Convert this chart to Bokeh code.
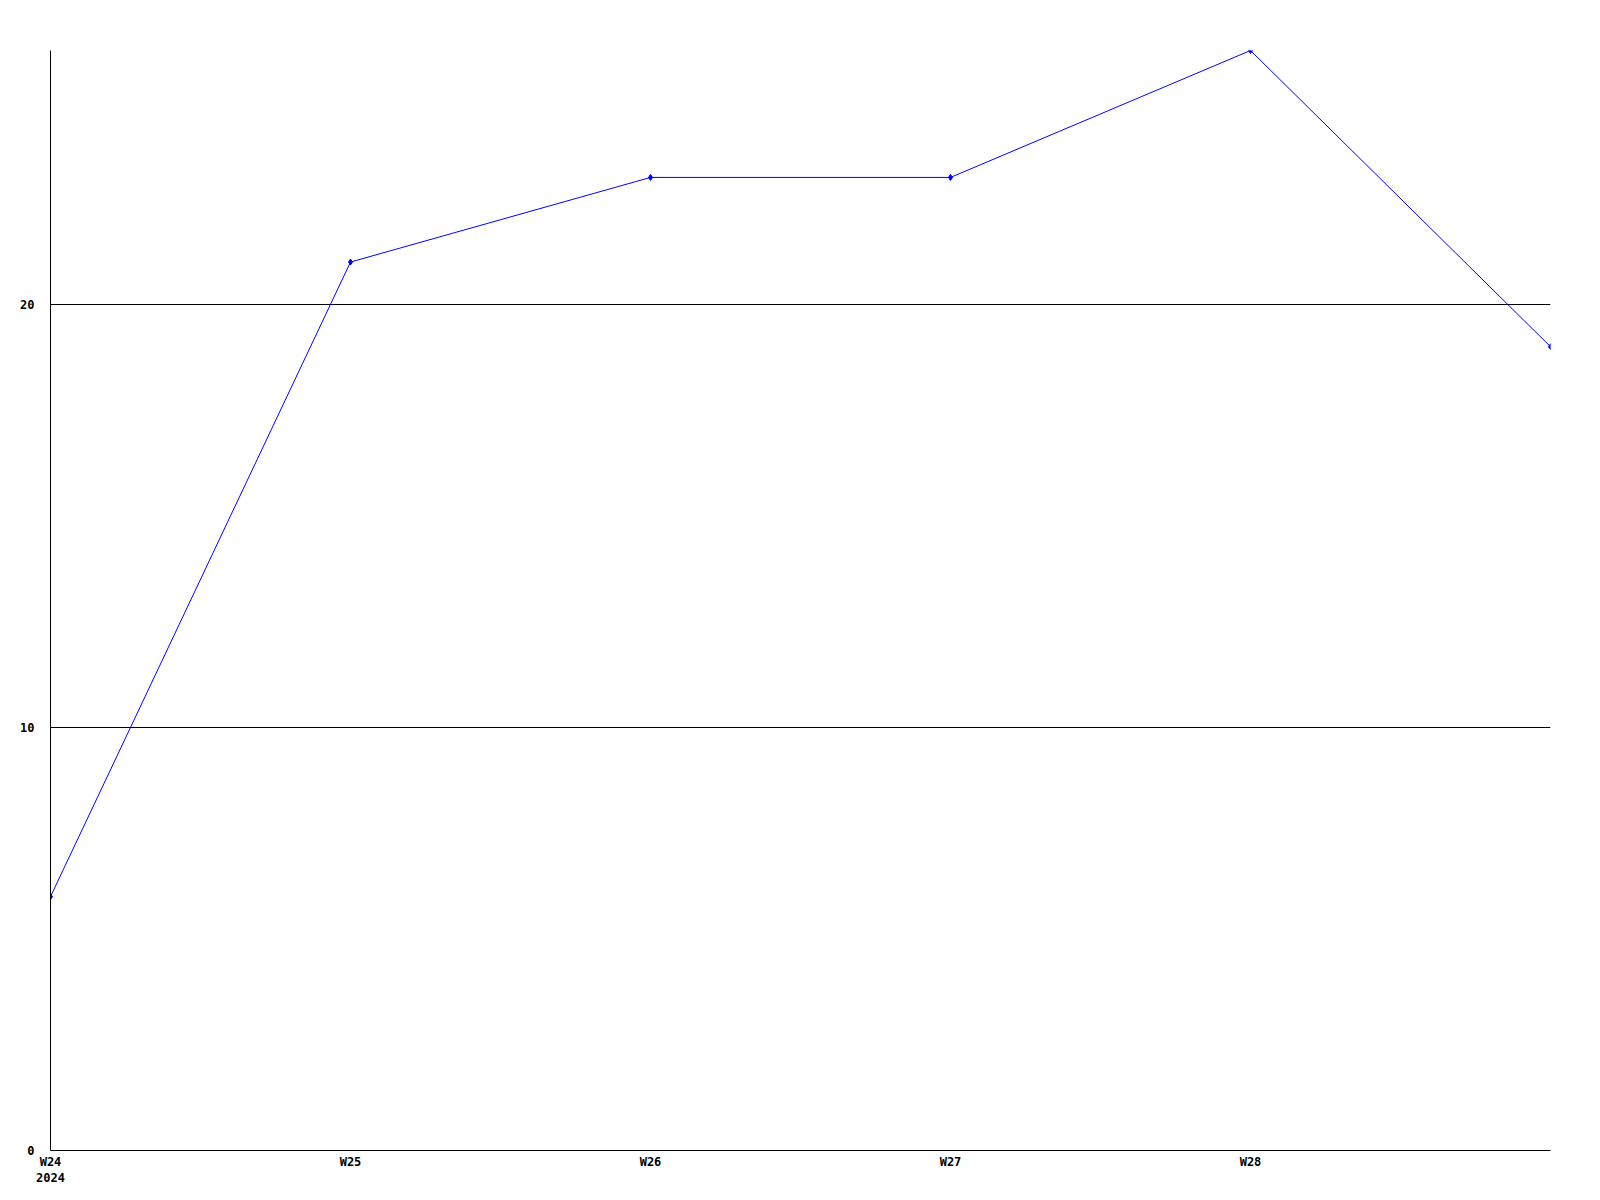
from bokeh.plotting import figure
from bokeh.models import FixedTicker, Range1d
from bokeh.embed import file_html
from bokeh.resources import INLINE

weeks = [24, 25, 26, 27, 28, 29]
values = [6, 21, 23, 23, 26, 19]
tick_weeks = [24, 25, 26, 27, 28]
tick_labels = ["W24\n2024", "W25", "W26", "W27", "W28"]
y_ticks = [0, 10, 20]
grid_ticks = [10, 20]

p = figure(width=1580, height=1188, output_backend="svg", toolbar_location=None,
           x_range=Range1d(24, 29), y_range=Range1d(0, 26),
           min_border_left=50, min_border_top=50, min_border_right=30, min_border_bottom=32)
p.outline_line_color = None
p.background_fill_color = "white"
p.border_fill_color = "white"

p.line(weeks, values, line_color="#0000ff", line_width=1)
p.scatter(weeks, values, marker="diamond", size=6, fill_color="#0000ff", line_color="#0000ff")

p.xgrid.visible = False
p.ygrid.ticker = FixedTicker(ticks=grid_ticks)
p.ygrid.grid_line_color = "black"
p.ygrid.grid_line_alpha = 1.0
p.ygrid.grid_line_width = 1

for ax in (p.xaxis[0], p.yaxis[0]):
    ax.axis_line_color = "black"
    ax.axis_line_width = 1
    ax.major_tick_line_color = None
    ax.minor_tick_line_color = None
    ax.major_tick_in = 0
    ax.major_tick_out = 0
    ax.major_label_text_font = "DejaVu Sans Mono"
    ax.major_label_text_font_style = "bold"
    ax.major_label_text_font_size = "12px"
    ax.major_label_text_color = "black"

p.xaxis[0].ticker = FixedTicker(ticks=tick_weeks)
p.xaxis[0].major_label_overrides = {w: l for w, l in zip(tick_weeks, tick_labels)}
p.xaxis[0].major_label_standoff = 4
p.yaxis[0].ticker = FixedTicker(ticks=y_ticks)
p.yaxis[0].major_label_standoff = 16

open("out.html", "w").write(file_html(p, INLINE))
